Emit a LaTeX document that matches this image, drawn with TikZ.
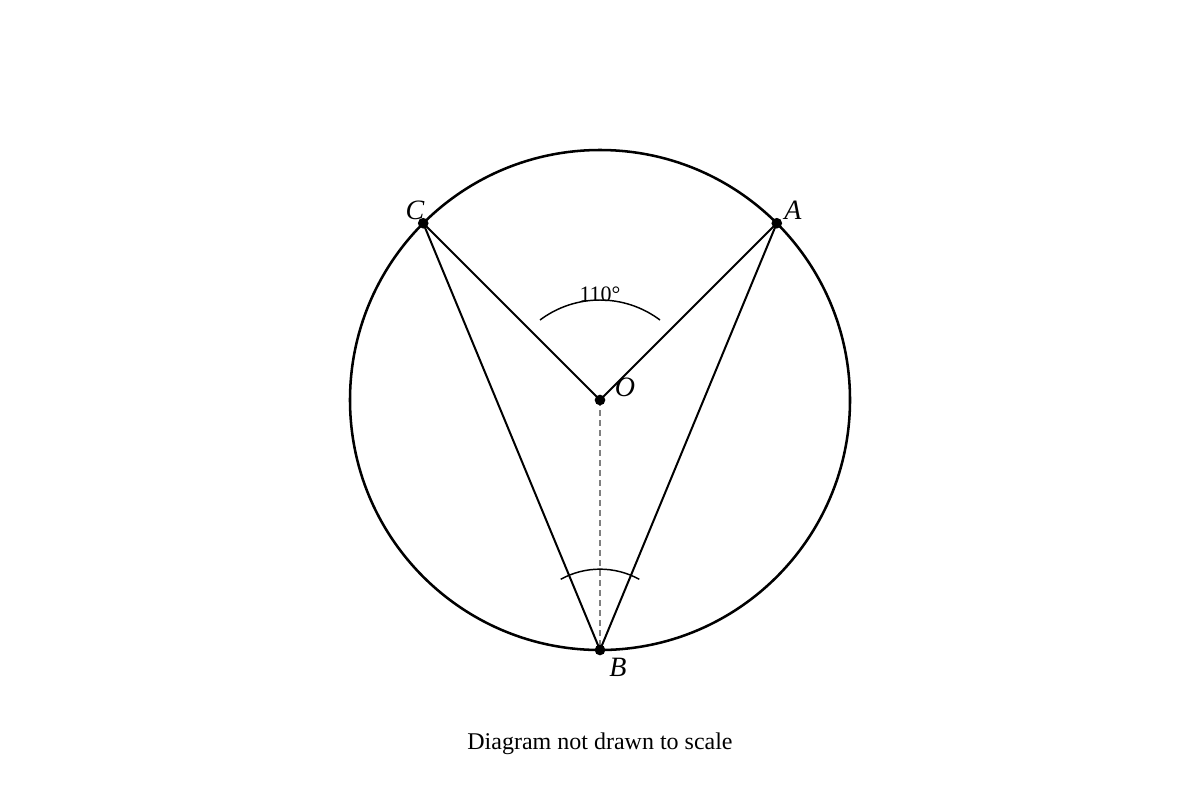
\documentclass[tikz,border=0pt]{standalone}
\usepackage{fontspec}
\setmainfont{Liberation Serif}
\begin{document}
\begin{tikzpicture}[x=0.75pt,y=-0.75pt,
  dot/.style={circle,fill=black,inner sep=0pt,minimum size=8pt},
  ptlabel/.style={font=\fontsize{21}{25}\selectfont\itshape,inner sep=0pt},
  seg/.style={line width=1.5pt},
  anglearc/.style={line width=1.1pt}]
\useasboundingbox (0,0) rectangle (1200,800);
\coordinate (O) at (600,400);
\draw[line width=1.9pt] (O) circle[radius=250*0.75pt];
\coordinate (A) at (776.78,223.22);
\coordinate (C) at (423.22,223.22);
\coordinate (B) at (600,650);
\draw[seg] (C) -- (O) -- (A);
\draw[seg] (C) -- (B) -- (A);
\draw[gray,line width=1.5pt,dash pattern=on 4.5pt off 3pt] (O) -- (B);
\draw[anglearc] (540,320) arc[start angle=126.87,end angle=53.13,radius=100*0.75pt];
\draw[anglearc] (560.7,579.3) arc[start angle=119,end angle=61,radius=81*0.75pt];
\node[dot] (Od) at (O) {};
\node[dot] (Ad) at (A) {};
\node[dot] (Cd) at (C) {};
\node[dot] (Bd) at (B) {};
\node[ptlabel] (lA) at (793,210) {A};
\node[ptlabel] (lC) at (415,210) {C};
\node[ptlabel] (lO) at (625,387) {O};
\node[ptlabel] (lB) at (618,667) {B};
\node[font=\fontsize{16.5}{19}\selectfont,inner sep=0pt] (ang) at (600,294) {110°};
\node[font=\fontsize{18}{22}\selectfont,inner sep=0pt] (cap) at (600,744) {Diagram not drawn to scale};
\end{tikzpicture}
\end{document}
